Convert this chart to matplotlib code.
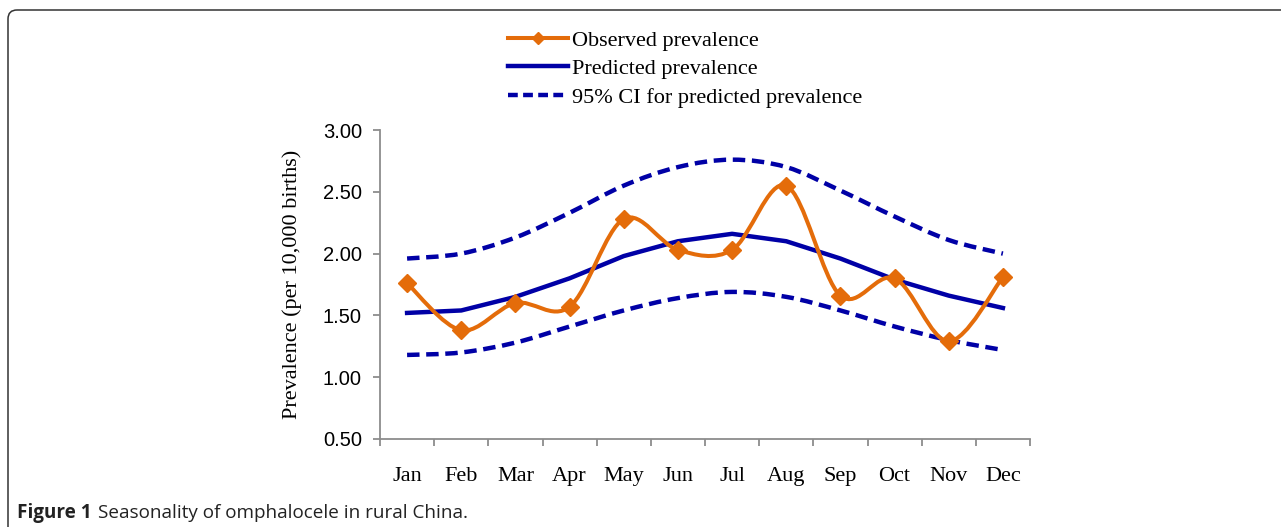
import numpy as np
import matplotlib
matplotlib.use("Agg")
import matplotlib.pyplot as plt
from matplotlib.path import Path
from matplotlib.patches import PathPatch, FancyBboxPatch
from matplotlib.lines import Line2D

months = ["Jan", "Feb", "Mar", "Apr", "May", "Jun",
          "Jul", "Aug", "Sep", "Oct", "Nov", "Dec"]
observed = [1.76, 1.38, 1.60, 1.57, 2.28, 2.03, 2.03, 2.55, 1.66, 1.80, 1.29, 1.81]
predicted = [1.52, 1.54, 1.65, 1.80, 1.98, 2.10, 2.16, 2.10, 1.96, 1.79, 1.66, 1.56]
ci_upper = [1.96, 2.00, 2.13, 2.33, 2.55, 2.70, 2.76, 2.70, 2.51, 2.30, 2.11, 2.00]
ci_lower = [1.18, 1.20, 1.28, 1.41, 1.54, 1.64, 1.69, 1.65, 1.54, 1.41, 1.30, 1.22]
yticks = [0.50, 1.00, 1.50, 2.00, 2.50, 3.00]

ORANGE = "#E46C0A"
BLUE = "#0000A6"
GRAY = "#8C8C8C"
SERIF = "Liberation Serif"
SANS = "Liberation Sans"


def smooth_path(xs, ys):
    """Cubic Bezier path through the points (Catmull-Rom style control points)."""
    pts = np.column_stack([xs, ys]).astype(float)
    n = len(pts)
    verts = [pts[0]]
    codes = [Path.MOVETO]
    for i in range(n - 1):
        p0 = pts[i - 1] if i > 0 else pts[i]
        p1 = pts[i]
        p2 = pts[i + 1]
        p3 = pts[i + 2] if i + 2 < n else pts[i + 1]
        c1 = p1 + (p2 - p0) / 6.0
        c2 = p2 - (p3 - p1) / 6.0
        verts += [c1, c2, p2]
        codes += [Path.CURVE4] * 3
    return Path(verts, codes)


fig = plt.figure(figsize=(12.81, 5.27), dpi=100)
W, H = 1281, 527

# rounded frame around the figure panel
frame = FancyBboxPatch((8, -40), 1400, H - 10 + 40,
                       boxstyle="round,pad=0,rounding_size=9",
                       transform=None, fill=False,
                       edgecolor="#333333", linewidth=1.1)
fig.patches.append(frame)

ax = fig.add_axes([380 / W, 88 / H, 650 / W, 309 / H])
x = np.arange(1, 13)

# confidence interval bands (dashed, smoothed)
for ci in (ci_upper, ci_lower):
    ax.add_patch(PathPatch(smooth_path(x, ci), fill=False, edgecolor=BLUE,
                           linewidth=3.2, linestyle=(0, (2.8, 1.5)),
                           capstyle="butt", zorder=2))

# predicted prevalence
ax.plot(x, predicted, color=BLUE, linewidth=3.2, zorder=3,
        solid_joinstyle="round")

# observed prevalence (smoothed) with diamond markers
ax.add_patch(PathPatch(smooth_path(x, observed), fill=False, edgecolor=ORANGE,
                       linewidth=2.9, zorder=4))
ax.plot(x, observed, linestyle="none", marker="D", markersize=9,
        color=ORANGE, zorder=5)

ax.set_xlim(0.5, 12.5)
ax.set_ylim(0.5, 3.0)
ax.set_yticks(yticks)
ax.set_yticklabels([f"{v:.2f}" for v in yticks])
ax.set_xticks(x)
ax.set_xticklabels(months)
ax.set_xticks(np.arange(0.5, 13, 1.0), minor=True)

for s in ("top", "right"):
    ax.spines[s].set_visible(False)
for s in ("left", "bottom"):
    ax.spines[s].set_color(GRAY)
    ax.spines[s].set_linewidth(1.3)

ax.tick_params(axis="x", which="major", length=0, pad=20,
               labelsize=16, labelfontfamily=SERIF)
ax.tick_params(axis="x", which="minor", length=5, width=1.3,
               color=GRAY, direction="out")
ax.tick_params(axis="y", length=5, width=1.3, color=GRAY, pad=8,
               labelsize=14.5, labelfontfamily=SANS)

ax.set_ylabel("Prevalence (per 10,000 births)", fontsize=16,
              fontfamily=SERIF, labelpad=15)

handles = [
    Line2D([], [], color=ORANGE, linewidth=2.9, marker="D", markersize=6),
    Line2D([], [], color=BLUE, linewidth=3.2),
    Line2D([], [], color=BLUE, linewidth=3.2, linestyle=(0, (2.2, 1.2))),
]
labels = ["Observed prevalence", "Predicted prevalence",
          "95% CI for predicted prevalence"]
fig.legend(handles, labels, loc="upper left",
           bbox_to_anchor=(508 / W, 1 - 30 / H),
           frameon=False, prop={"family": SERIF, "size": 16},
           handlelength=2.7, handletextpad=0.2, labelspacing=0.36,
           borderpad=0, borderaxespad=0)

# caption: bold figure number followed by the title
cap_y = 1 - 513 / H
t1 = fig.text(17 / W, cap_y, "Figure 1", fontfamily="Open Sans",
              fontweight="bold", fontsize=13.6, va="center", ha="left",
              color="#222222")
fig.canvas.draw()
bb = t1.get_window_extent()
fig.text((bb.x1 + 6) / W, cap_y, "Seasonality of omphalocele in rural China.",
         fontfamily="Open Sans", fontsize=13.6, va="center", ha="left",
         color="#222222")

fig.savefig("out.png", dpi=100)
